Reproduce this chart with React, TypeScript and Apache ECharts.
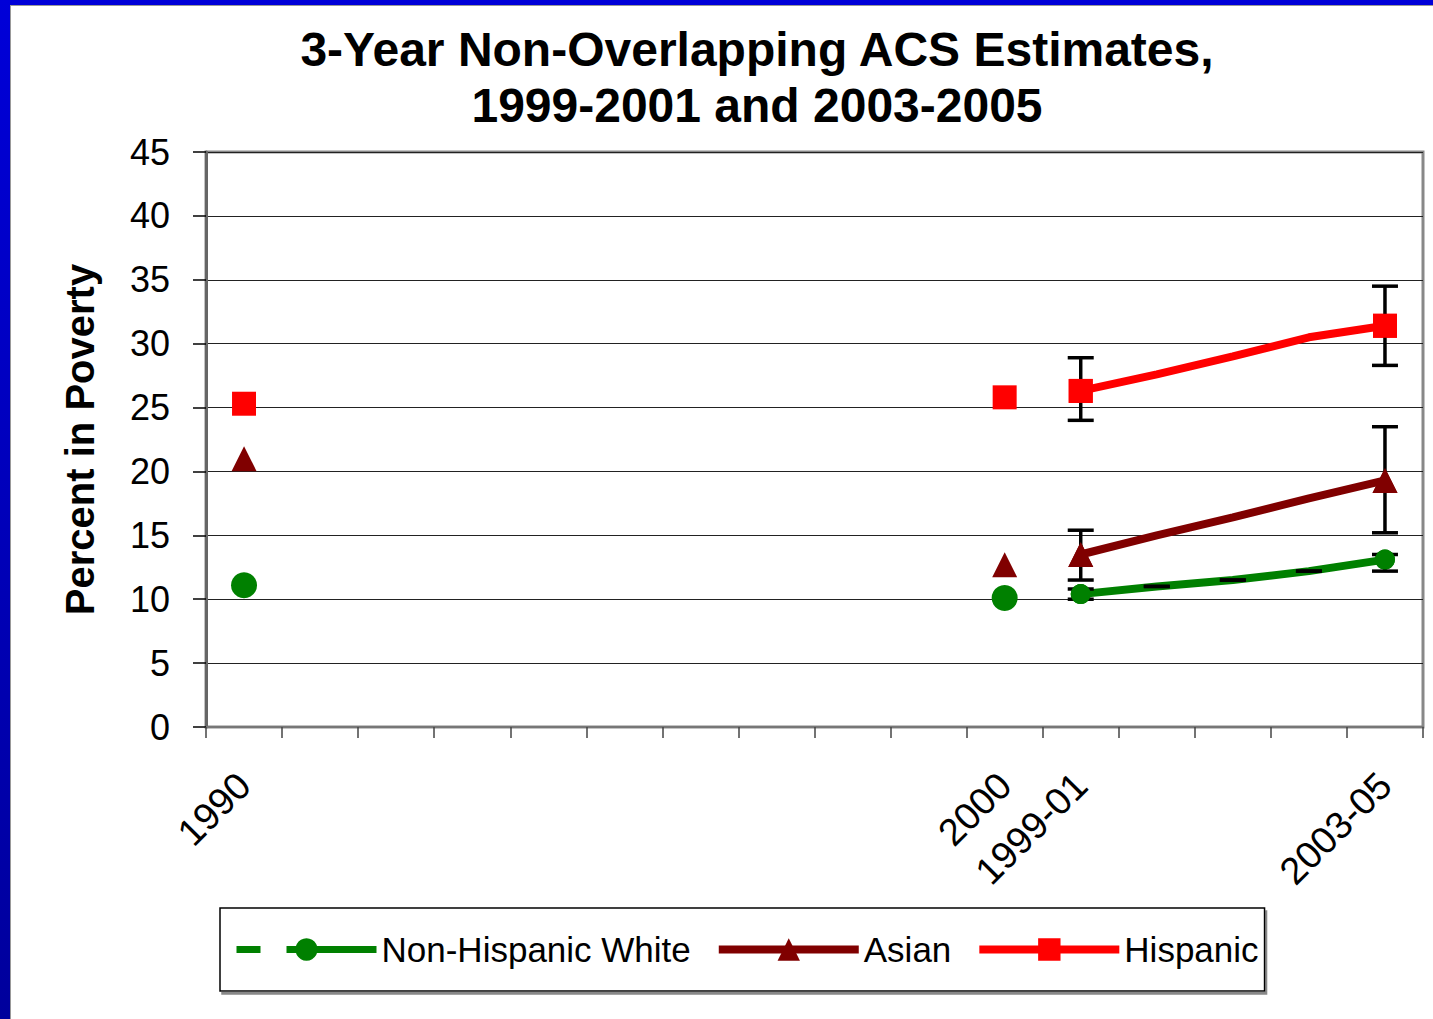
import React, { useEffect, useRef } from "react";
import * as echarts from "echarts";

const categories = ["1990", "", "", "", "", "", "", "", "", "", "2000", "1999-01", "", "", "", "2003-05"];
const yTicks = { min: 0, max: 45, interval: 5 };

const N = null;
// 3-year ACS lines
const whiteLine = [N, N, N, N, N, N, N, N, N, N, N, 10.4, 11.0, 11.5, 12.2, 13.1];
const asianLine = [N, N, N, N, N, N, N, N, N, N, N, 13.5, 15.0, 16.4, 17.9, 19.3];
const hispanicLine = [N, N, N, N, N, N, N, N, N, N, N, 26.3, 27.6, 29.0, 30.5, 31.4];
// Census points
const whitePoints = [11.1, N, N, N, N, N, N, N, N, N, 10.1, N, N, N, N, N];
const asianPoints = [21.0, N, N, N, N, N, N, N, N, N, 12.7, N, N, N, N, N];
const hispanicPoints = [25.3, N, N, N, N, N, N, N, N, N, 25.8, N, N, N, N, N];
// error bars
const whiteLow = [N, N, N, N, N, N, N, N, N, N, N, 10.0, 11.0, 11.5, 12.2, 12.2];
const whiteHigh = [N, N, N, N, N, N, N, N, N, N, N, 10.8, 11.0, 11.5, 12.2, 13.5];
const asianLow = [N, N, N, N, N, N, N, N, N, N, N, 11.5, N, N, N, 15.2];
const asianHigh = [N, N, N, N, N, N, N, N, N, N, N, 15.4, N, N, N, 23.5];
const hispanicLow = [N, N, N, N, N, N, N, N, N, N, N, 24.0, N, N, N, 28.3];
const hispanicHigh = [N, N, N, N, N, N, N, N, N, N, N, 28.9, N, N, N, 34.5];

const FONT = "'Liberation Sans', Arial, sans-serif";

function endpoints(arr: (number | null)[]) {
  const idx = arr.map((v, i) => (v == null ? -1 : i)).filter((i) => i >= 0);
  return [idx[0], idx[idx.length - 1]];
}

function lineSeries(name: string, data: (number | null)[], color: string, symbol: string, size: number, width: number) {
  const [a, b] = endpoints(data);
  return {
    type: "line",
    name,
    data,
    z: 2,
    color,
    symbol,
    symbolSize: (_v: any, p: any) => (p.dataIndex === a || p.dataIndex === b ? size : 0),
    connectNulls: false,
    lineStyle: { width, color },
    itemStyle: { color },
    emphasis: { disabled: true },
    silent: true,
  };
}

function overlaySeries(name: string, line: (number | null)[], pts: (number | null)[], color: string, symbol: string, lineSize: number, ptSize: number) {
  const [a, b] = endpoints(line);
  const data: any[] = [];
  pts.forEach((v, i) => {
    if (v != null) data.push({ value: [i, v], symbolSize: ptSize });
  });
  [a, b].forEach((i) => data.push({ value: [i, line[i]], symbolSize: lineSize }));
  return {
    type: "scatter",
    name,
    data,
    z: 4,
    symbol,
    itemStyle: { color, opacity: 1 },
    emphasis: { disabled: true },
    silent: true,
  };
}

function errorSeries(name: string, low: (number | null)[], high: (number | null)[]) {
  const data: any[] = [];
  low.forEach((l, i) => {
    const h = high[i];
    if (l != null && h != null) data.push([i, l, h]);
  });
  return {
    type: "custom",
    name,
    z: 3,
    silent: true,
    data,
    encode: { x: 0, y: [1, 2] },
    renderItem: (_params: any, api: any) => {
      const x = api.value(0);
      const lo = api.coord([x, api.value(1)]);
      const hi = api.coord([x, api.value(2)]);
      const w = 13;
      const st = { stroke: "#000", lineWidth: 3.5 };
      return {
        type: "group",
        children: [
          { type: "line", shape: { x1: lo[0], y1: lo[1], x2: hi[0], y2: hi[1] }, style: st },
          { type: "line", shape: { x1: lo[0] - w, y1: lo[1], x2: lo[0] + w, y2: lo[1] }, style: st },
          { type: "line", shape: { x1: hi[0] - w, y1: hi[1], x2: hi[0] + w, y2: hi[1] }, style: st },
        ],
      };
    },
  };
}

export default function App() {
  const ref = useRef<HTMLDivElement>(null);
  useEffect(() => {
    const chart = echarts.init(ref.current!, null, { renderer: "svg" });
    chart.setOption({
      animation: false,
      textStyle: { fontFamily: FONT },
      title: {
        text: "3-Year Non-Overlapping ACS Estimates,\n1999-2001 and 2003-2005",
        left: 752,
        textAlign: "center",
        top: 16,
        textStyle: { fontFamily: FONT, fontSize: 48, fontWeight: "bold", color: "#000", lineHeight: 56 },
      },
      grid: { left: 206, right: 10, top: 152, bottom: 292, show: true, borderColor: "#888", borderWidth: 3, backgroundColor: "transparent" },
      legend: {
        left: 220,
        top: 908,
        orient: "horizontal",
        itemWidth: 140,
        itemHeight: 28,
        itemGap: 24,
        padding: [24, 6, 24, 13],
        borderColor: "#000",
        borderWidth: 1.5,
        backgroundColor: "#fff",
        shadowColor: "#888",
        shadowOffsetX: 2,
        shadowOffsetY: 3,
        shadowBlur: 0,
        selectedMode: false,
        textStyle: { fontFamily: FONT, fontSize: 35, color: "#000" },
        data: [
          { name: "Non-Hispanic White", lineStyle: { type: [24, 26, 200, 10], width: 7 } },
          { name: "Asian", lineStyle: { width: 8 } },
          { name: "Hispanic", lineStyle: { width: 8 } },
        ],
      },
      xAxis: {
        type: "category",
        data: categories,
        boundaryGap: true,
        axisLine: { show: true, lineStyle: { color: "#777", width: 2 } },
        axisTick: { show: true, interval: 0, length: 11, lineStyle: { color: "#444", width: 1.5 } },
        axisLabel: { interval: 0, rotate: 45, fontSize: 38, color: "#000", margin: 52, fontFamily: FONT },
        splitLine: { show: false },
      },
      yAxis: {
        type: "value",
        min: yTicks.min,
        max: yTicks.max,
        interval: yTicks.interval,
        name: "Percent in Poverty",
        nameLocation: "middle",
        nameGap: 106,
        nameTextStyle: { fontFamily: FONT, fontSize: 40, fontWeight: "bold", color: "#000" },
        axisLine: { show: true, lineStyle: { color: "#666", width: 3 } },
        axisTick: { show: true, length: 13, lineStyle: { color: "#000", width: 1.5 } },
        axisLabel: { fontSize: 36, color: "#000", margin: 36, fontFamily: FONT },
        splitLine: { show: true, lineStyle: { color: "#222", width: 1 } },
      },
      series: [
        lineSeries("Non-Hispanic White", whiteLine, "#008000", "circle", 20, 8),
        lineSeries("Asian", asianLine, "#800000", "triangle", 25, 8),
        lineSeries("Hispanic", hispanicLine, "#ff0000", "rect", 24, 8),
        errorSeries("white-err", whiteLow, whiteHigh),
        errorSeries("asian-err", asianLow, asianHigh),
        errorSeries("hispanic-err", hispanicLow, hispanicHigh),
        overlaySeries("white-pts", whiteLine, whitePoints, "#008000", "circle", 20, 26),
        overlaySeries("asian-pts", asianLine, asianPoints, "#800000", "triangle", 25, 25),
        overlaySeries("hispanic-pts", hispanicLine, hispanicPoints, "#ff0000", "rect", 24, 24),
      ],
    });
    return () => chart.dispose();
  }, []);
  return (
    <div style={{ position: "fixed", left: 0, top: 0, width: 1433, height: 1019, background: "linear-gradient(to bottom, #0000d8, #00009c)" }}>
      <div style={{ position: "absolute", left: 10, top: 5, right: 0, bottom: 0, background: "#fff", borderLeft: "1px solid #999", borderTop: "1px solid #999" }} />
      <div ref={ref} style={{ position: "absolute", left: 0, top: 0, width: 1433, height: 1019 }} />
    </div>
  );
}
